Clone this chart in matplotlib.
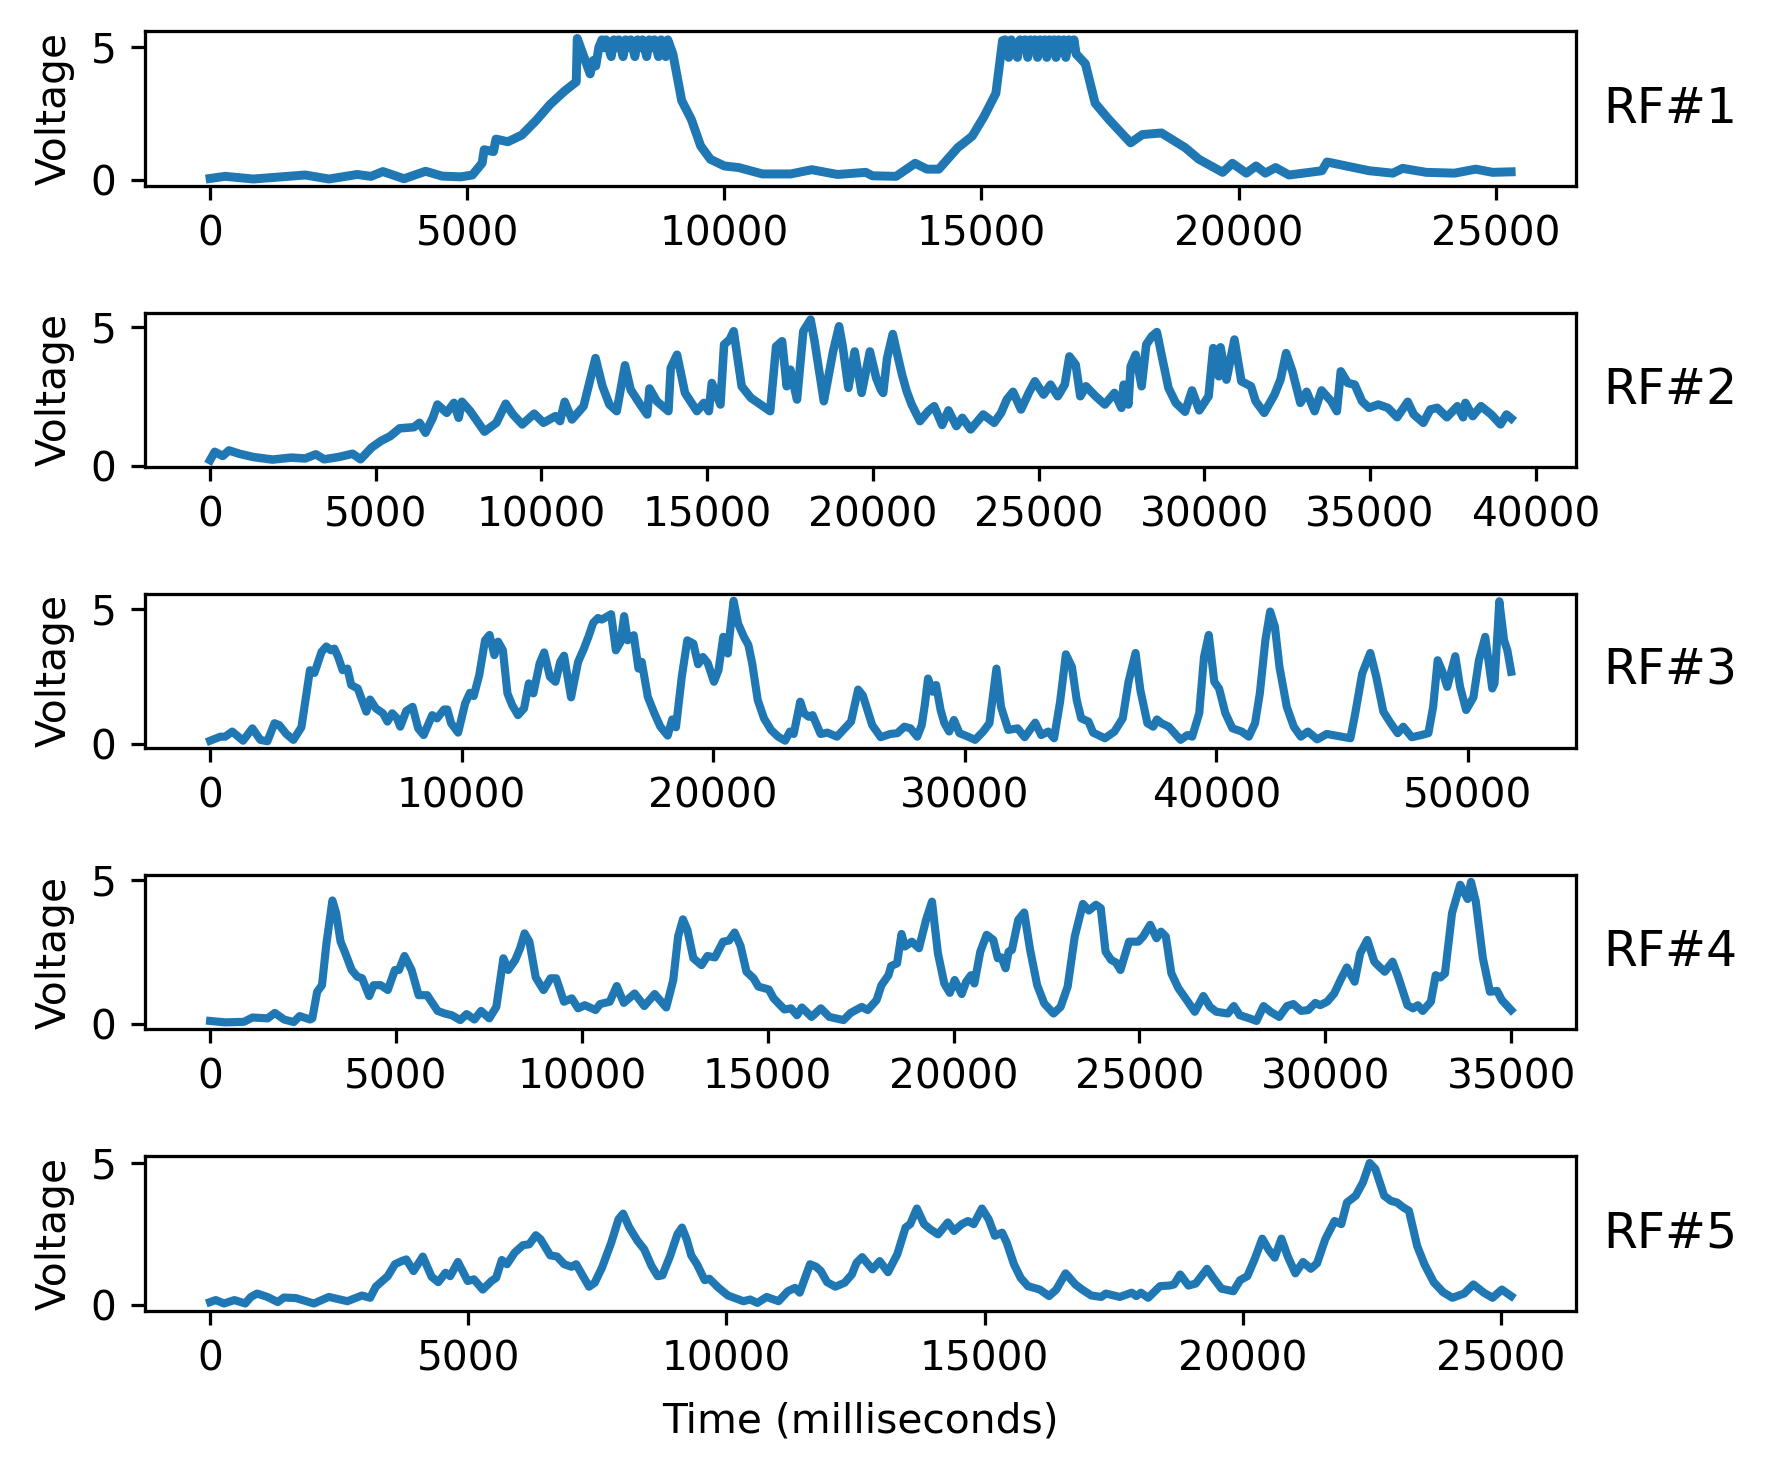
import matplotlib
matplotlib.use("Agg")
import matplotlib.pyplot as plt

# ---------------- data ----------------
rf1_t = [0, 290, 840, 1850, 2310, 2860, 3130, 3360, 3770, 4190, 4510, 4870, 5100, 5290, 5330,
         5510, 5560, 5790, 6060, 6340, 6610, 6890, 7120, 7140, 7250, 7390, 7450, 7500, 7560,
         7620, 7660, 7700, 7750, 7800, 7850, 7900, 7950, 8030, 8080, 8130, 8180, 8260, 8310,
         8360, 8410, 8490, 8540, 8590, 8640, 8720, 8770, 8820, 8860, 8900,
         9000, 9170, 9360, 9540, 9730, 10000, 10280, 10740, 11290, 11700, 12200, 12750, 12880,
         13340, 13710, 13940, 14170, 14540, 14820, 15050, 15280, 15410,
         15460, 15530, 15580, 15630, 15700, 15750, 15800, 15850, 15900, 15950, 16000, 16040,
         16090, 16140, 16180, 16230, 16270, 16320, 16370, 16410, 16450, 16500, 16550, 16600,
         16640, 16700, 16760, 16800,
         16840, 17020, 17210, 17480, 17900, 18130, 18500, 18960, 19230, 19690, 19880, 20150,
         20340, 20520, 20720, 20980, 21620, 21720, 22090, 22540, 23000, 23190, 23650, 24200,
         24610, 24940, 25300]
rf1_v = [0.07, 0.15, 0.05, 0.20, 0.05, 0.22, 0.15, 0.33, 0.06, 0.34, 0.16, 0.13, 0.20, 0.65, 1.15,
         1.08, 1.55, 1.45, 1.70, 2.25, 2.85, 3.35, 3.70, 5.33, 4.75, 4.00, 4.50, 4.30, 5.00,
         5.28, 4.98, 5.28, 4.98, 4.65, 5.28, 4.98, 5.28, 4.65, 5.28, 4.98, 5.28, 4.65, 5.28,
         4.98, 5.28, 4.65, 5.28, 4.98, 5.28, 4.65, 5.28, 4.98, 4.65, 5.28,
         4.75, 3.00, 2.28, 1.29, 0.79, 0.54, 0.48, 0.24, 0.24, 0.40, 0.22, 0.30, 0.17,
         0.15, 0.64, 0.42, 0.42, 1.23, 1.66, 2.40, 3.27, 5.25,
         5.28, 4.62, 5.28, 4.98, 4.62, 5.28, 4.98, 5.28, 4.62, 5.28, 4.98, 5.28,
         4.62, 5.28, 4.98, 5.28, 4.62, 5.28, 4.98, 5.28, 4.62, 5.28, 4.98, 5.28,
         4.62, 5.28, 4.98, 5.28,
         4.75, 4.38, 2.90, 2.28, 1.41, 1.72, 1.78, 1.23, 0.79, 0.30, 0.64, 0.27,
         0.54, 0.27, 0.48, 0.20, 0.36, 0.69, 0.54, 0.36, 0.27, 0.45, 0.30, 0.27,
         0.42, 0.30, 0.32]

rf2_t = [0, 140, 380, 570, 880, 1310, 1880, 2450, 2870, 3190, 3440, 3870, 4300, 4540, 4870,
         5150, 5440, 5720, 6150, 6320, 6500, 6720, 6860, 7140, 7360, 7500, 7600, 7850, 8280,
         8640, 8920, 9140, 9420, 9780, 10060, 10420, 10560, 10700, 10920, 11270, 11480, 11630,
         11840, 12050, 12270, 12520, 12690, 12980, 13190, 13260, 13480, 13830, 13900, 14090,
         14330, 14690, 14900, 15050, 15140, 15400, 15510, 15680, 15800, 16040, 16320, 16680,
         16900, 17080, 17260, 17400, 17510, 17710, 17900, 18120, 18240, 18520, 18800, 18980,
         19090, 19260, 19450, 19660, 19910, 20100, 20240, 20310, 20430, 20600, 20740, 20880,
         21020, 21170, 21420, 21670, 21850, 22090, 22280, 22520, 22700, 22950, 23330, 23660,
         23870, 24040, 24230, 24470, 24720, 24890, 25150, 25360, 25580, 25790, 25930, 26120,
         26260, 26430, 26720, 27000, 27290, 27500, 27570, 27710, 27780, 27930, 28110, 28250,
         28420, 28570, 28710, 28920, 29140, 29420, 29630, 29850, 30130, 30270, 30440, 30490,
         30670, 30910, 31120, 31410, 31550, 31810, 32120, 32300, 32470, 32660, 32900, 33090,
         33330, 33540, 33830, 34000, 34120, 34330, 34540, 34760, 34970, 35250, 35540, 35820,
         36140, 36320, 36610, 36820, 37030, 37320, 37640, 37810, 37880, 38100, 38350, 38660,
         38940, 39120, 39260]
rf2_v = [0.20, 0.50, 0.35, 0.55, 0.43, 0.31, 0.22, 0.29, 0.26, 0.41, 0.23, 0.31, 0.43, 0.23, 0.65,
         0.89, 1.07, 1.35, 1.39, 1.55, 1.19, 1.73, 2.21, 1.91, 2.27, 1.73, 2.31, 1.97, 1.23,
         1.55, 2.24, 1.85, 1.49, 1.88, 1.55, 1.79, 1.61, 2.31, 1.67, 2.15, 3.17, 3.89,
         2.87, 2.21, 1.97, 3.63, 2.75, 2.21, 1.85, 2.79, 2.33, 1.97, 3.53, 4.01,
         2.63, 1.97, 2.27, 1.97, 2.99, 2.21, 4.38, 4.56, 4.86, 2.87, 2.45, 2.15,
         1.97, 4.31, 4.50, 2.87, 3.47, 2.39, 4.86, 5.28, 4.50, 2.33, 4.13, 5.04,
         4.31, 2.81, 4.13, 2.63, 4.13, 3.17, 2.75, 2.63, 3.89, 4.76, 4.01, 3.29,
         2.69, 2.21, 1.61, 1.97, 2.15, 1.47, 2.00, 1.43, 1.73, 1.31, 1.85, 1.55,
         1.91, 2.39, 2.67, 2.03, 2.67, 3.05, 2.57, 2.93, 2.51, 2.93, 3.95, 3.65,
         2.51, 2.87, 2.51, 2.21, 2.63, 2.09, 2.93, 2.21, 3.59, 4.01, 2.87, 4.38,
         4.68, 4.83, 4.01, 2.81, 2.27, 1.95, 2.72, 2.00, 2.51, 4.25, 3.23, 4.28,
         3.11, 4.56, 3.05, 2.87, 2.33, 1.91, 2.57, 3.11, 4.07, 3.41, 2.27, 2.67,
         1.97, 2.72, 2.33, 1.97, 3.41, 2.99, 2.93, 2.33, 2.09, 2.21, 2.09, 1.75,
         2.31, 1.85, 1.55, 2.03, 2.09, 1.75, 2.15, 1.75, 2.27, 1.79, 2.15, 1.85,
         1.49, 1.85, 1.71]

rf3_t = [0, 410, 600, 880, 1310, 1680, 2000, 2280, 2560, 2750, 3030, 3310, 3630, 3970, 4150,
         4430, 4620, 4800, 4940, 5090, 5270, 5460, 5610, 5870, 6210, 6360, 6590, 6870, 7050,
         7240, 7430, 7560, 7800, 8050, 8270, 8490, 8830, 9020, 9300, 9430, 9580, 9860, 10140,
         10330, 10480, 10700, 10930, 11110, 11300, 11450, 11640, 11820, 12010, 12240, 12480,
         12670, 12850, 13100, 13280, 13510, 13730, 13920, 14070, 14350, 14630, 14860, 15040,
         15230, 15420, 15570, 15720, 15940, 16130, 16320, 16460, 16600, 16840, 17030, 17160,
         17400, 17660, 17900, 18190, 18370, 18520, 18750, 18970, 19210, 19400, 19590, 19780,
         20030, 20210, 20400, 20580, 20660, 20810, 20990, 21220, 21400, 21550, 21770, 22020,
         22300, 22580, 22860, 23050, 23200, 23460, 23610, 23800, 23950, 24270, 24540, 24920,
         25290, 25480, 25760, 25950, 26150, 26320, 26660, 27040, 27320, 27600, 27840, 28110,
         28290, 28410, 28540, 28720, 28860, 29040, 29190, 29380, 29570, 29790, 30130, 30410,
         30730, 30980, 31260, 31440, 31730, 32100, 32380, 32800, 33040, 33320, 33550, 33790,
         34020, 34260, 34450, 34630, 34920, 35100, 35570, 35950, 36280, 36510, 36790, 36980,
         37260, 37490, 37640, 37820, 38110, 38580, 38850, 39040, 39320, 39510, 39700, 39920,
         40110, 40360, 40640, 41010, 41290, 41540, 41730, 41950, 42140, 42330, 42510, 42800,
         43080, 43360, 43640, 44010, 44390, 45330, 45510, 45800, 46120, 46360, 46640, 46930,
         47210, 47430, 47770, 48150, 48430, 48620, 48800, 48990, 49180, 49500, 49690, 49930,
         50220, 50440, 50690, 50970, 51060, 51250, 51440, 51570, 51720]
rf3_v = [0.12, 0.27, 0.27, 0.46, 0.12, 0.58, 0.15, 0.10, 0.77, 0.70, 0.37, 0.15, 0.62, 2.74, 2.64,
         3.42, 3.62, 3.48, 3.54, 3.23, 2.74, 2.80, 2.19, 2.06, 1.20, 1.65, 1.32, 1.14, 0.83,
         1.14, 0.95, 0.64, 1.23, 1.38, 0.58, 0.33, 1.07, 0.95, 1.28, 1.28, 0.77, 0.42, 1.51,
         1.90, 1.78, 2.56, 3.85, 4.05, 3.30, 3.80, 3.48, 1.88, 1.44, 1.07, 1.32,
         2.25, 1.88, 2.99, 3.40, 2.49, 2.31, 3.05, 3.28, 1.73, 3.05, 3.54, 3.98,
         4.50, 4.68, 4.62, 4.70, 4.82, 3.48, 3.79, 4.75, 3.85, 4.04, 2.80, 3.05,
         1.75, 1.14, 0.64, 0.31, 0.91, 0.62, 2.49, 3.85, 3.73, 2.96, 3.23, 3.01,
         2.31, 2.74, 3.98, 3.36, 4.10, 5.32, 4.47, 3.98, 3.67, 2.99, 1.63, 0.95,
         0.52, 0.27, 0.12, 0.46, 0.37, 1.57, 1.14, 1.01, 1.07, 0.37, 0.42, 0.27,
         0.64, 0.83, 2.02, 1.80, 1.20, 0.70, 0.25, 0.37, 0.40, 0.64, 0.58, 0.27,
         0.70, 1.44, 2.43, 1.94, 2.19, 1.26, 0.77, 0.46, 0.89, 0.40, 0.27, 0.15,
         0.46, 0.77, 2.80, 1.38, 0.52, 0.58, 0.25, 0.79, 0.33, 0.46, 0.21, 1.57,
         3.33, 2.86, 1.63, 0.95, 0.83, 0.42, 0.21, 0.46, 0.95, 2.31, 3.38, 2.00,
         0.77, 0.64, 0.91, 0.77, 0.64, 0.15, 0.33, 0.27, 1.14, 3.23, 4.05, 2.31,
         2.06, 1.14, 0.58, 0.46, 0.27, 0.77, 1.88, 3.85, 4.92, 4.35, 2.86, 1.38,
         0.64, 0.27, 0.46, 0.17, 0.37, 0.21, 1.07, 2.62, 3.38, 2.49, 1.20, 0.77,
         0.40, 0.64, 0.25, 0.33, 0.40, 1.38, 3.11, 2.68, 2.12, 3.26, 2.12, 1.26,
         1.73, 3.11, 3.98, 2.06, 2.25, 5.30, 3.85, 3.48, 2.68]

rf4_t = [0, 410, 910, 1140, 1550, 1740, 1990, 2250, 2410, 2690, 2750, 2880, 3010, 3130, 3290,
         3390, 3510, 3640, 3810, 3960, 4090, 4280, 4400, 4590, 4780, 4970, 5080, 5230, 5420,
         5610, 5840, 6120, 6310, 6500, 6730, 6900, 7110, 7290, 7510, 7700, 7890, 8020, 8210,
         8340, 8460, 8590, 8760, 8970, 9160, 9310, 9520, 9730, 9900, 10080, 10370, 10490,
         10750, 10940, 11130, 11420, 11680, 11960, 12270, 12460, 12590, 12720, 12840, 13000,
         13220, 13380, 13580, 13800, 13960, 14110, 14270, 14430, 14620, 14750, 15030, 15160,
         15450, 15630, 15790, 15920, 16180, 16430, 16660, 17040, 17230, 17530, 17690, 17930,
         18060, 18250, 18320, 18480, 18600, 18690, 18880, 19070, 19260, 19420, 19580, 19750,
         19900, 20030, 20220, 20340, 20470, 20560, 20720, 20890, 21070, 21190, 21290, 21400,
         21480, 21570, 21740, 21900, 22060, 22250, 22440, 22690, 22880, 23070, 23260, 23480,
         23640, 23830, 23960, 24090, 24240, 24370, 24490, 24720, 24970, 25100, 25290, 25460,
         25580, 25710, 25860, 26050, 26240, 26490, 26720, 26900, 27070, 27380, 27540, 27700,
         27960, 28150, 28340, 28530, 28760, 28970, 29140, 29350, 29540, 29730, 29860, 30050,
         30240, 30410, 30580, 30790, 30940, 31130, 31320, 31450, 31600, 31810, 31960, 32210,
         32360, 32490, 32620, 32840, 32970, 33100, 33220, 33410, 33630, 33830, 33920, 34050,
         34240, 34430, 34620, 34750, 35000]
rf4_v = [0.09, 0.04, 0.06, 0.21, 0.18, 0.37, 0.14, 0.05, 0.26, 0.14, 0.18, 1.11, 1.34, 2.80, 4.30,
         3.86, 2.86, 2.45, 1.87, 1.64, 1.58, 0.96, 1.34, 1.34, 1.17, 1.87, 1.87, 2.36, 1.87,
         0.99, 0.99, 0.44, 0.35, 0.29, 0.12, 0.33, 0.14, 0.44, 0.18, 0.58, 2.28, 1.87, 2.22,
         2.63, 3.15, 2.86, 1.61, 1.17, 1.58, 1.58, 0.76, 0.88, 0.53, 0.64, 0.47, 0.68,
         0.76, 1.31, 0.72, 1.05, 0.61, 1.03, 0.56, 1.52, 3.04, 3.64, 3.27, 2.28,
         2.04, 2.36, 2.31, 2.86, 2.90, 3.18, 2.71, 1.81, 1.58, 1.29, 1.19, 0.88,
         0.49, 0.53, 0.29, 0.56, 0.23, 0.53, 0.23, 0.12, 0.37, 0.58, 0.47, 0.82,
         1.34, 1.69, 2.01, 2.10, 3.13, 2.69, 2.86, 2.63, 3.62, 4.26, 2.45, 1.40,
         1.07, 1.52, 1.03, 1.46, 1.69, 1.40, 2.51, 3.10, 2.92, 2.28, 2.31, 1.93,
         2.51, 2.57, 3.62, 3.88, 2.57, 1.34, 0.70, 0.35, 0.58, 1.29, 3.04, 4.18,
         3.95, 4.15, 4.03, 2.51, 2.22, 2.13, 1.87, 2.86, 2.86, 3.04, 3.45, 2.98,
         3.21, 3.04, 1.75, 1.23, 0.88, 0.41, 0.96, 0.58, 0.41, 0.35, 0.61, 0.29,
         0.18, 0.09, 0.61, 0.41, 0.23, 0.61, 0.68, 0.44, 0.47, 0.72, 0.64, 0.76,
         1.05, 1.52, 1.96, 1.46, 2.45, 2.92, 2.16, 1.99, 1.81, 2.16, 1.64, 0.64,
         0.53, 0.64, 0.44, 0.76, 1.69, 1.61, 1.75, 3.86, 4.85, 4.35, 4.95, 4.26,
         2.28, 1.11, 1.14, 0.82, 0.47]

rf5_t = [0, 110, 270, 470, 680, 790, 910, 1110, 1310, 1430, 1660, 2010, 2300, 2660, 2940, 3100,
         3210, 3440, 3580, 3710, 3800, 3940, 4120, 4290, 4420, 4560, 4650, 4800, 4990, 5110,
         5280, 5450, 5540, 5650, 5750, 5900, 6060, 6180, 6310, 6400, 6590, 6720, 6860, 7000,
         7090, 7340, 7450, 7590, 7770, 7910, 8000, 8120, 8280, 8410, 8550, 8670, 8760, 8910,
         9050, 9140, 9230, 9320, 9430, 9580, 9670, 9850, 10030, 10330, 10460, 10600, 10780,
         11010, 11190, 11330, 11420, 11620, 11740, 11830, 11950, 12110, 12290, 12430, 12520,
         12630, 12830, 12970, 13130, 13310, 13470, 13560, 13690, 13830, 13950, 14100, 14290,
         14410, 14560, 14680, 14790, 14950, 15080, 15200, 15340, 15430, 15570, 15700, 15840,
         16070, 16250, 16390, 16570, 16760, 16890, 17070, 17260, 17350, 17620, 17850, 17940,
         18030, 18170, 18400, 18580, 18670, 18790, 18950, 19090, 19310, 19430, 19590, 19820,
         19950, 20090, 20230, 20380, 20500, 20620, 20750, 20870, 21020, 21170, 21320, 21440,
         21600, 21780, 21910, 22020, 22190, 22330, 22460, 22570, 22740, 22870, 22990, 23110,
         23220, 23380, 23520, 23700, 23880, 24060, 24290, 24470, 24670, 24840, 25020, 25200]
rf5_v = [0.11, 0.18, 0.06, 0.18, 0.06, 0.29, 0.41, 0.29, 0.11, 0.27, 0.25, 0.06, 0.29, 0.14, 0.34, 0.26,
         0.65, 1.02, 1.44, 1.55, 1.61, 1.20, 1.71, 1.00, 0.81, 1.14, 1.02, 1.52, 0.85, 0.91,
         0.55, 0.85, 0.96, 1.59, 1.44, 1.85, 2.11, 2.14, 2.46, 2.32, 1.75, 1.71, 1.44, 1.35,
         1.44, 0.65, 0.79, 1.32, 2.20, 3.02, 3.22, 2.73, 2.26, 1.96, 1.38, 1.02, 1.05, 1.73,
         2.49, 2.73, 2.32, 1.75, 1.44, 0.88, 0.93, 0.61, 0.34, 0.14, 0.20, 0.08, 0.29,
         0.14, 0.49, 0.61, 0.44, 1.44, 1.35, 1.20, 0.81, 0.65, 0.79, 1.08, 1.49,
         1.69, 1.26, 1.55, 1.16, 1.79, 2.73, 2.85, 3.40, 2.85, 2.67, 2.49, 2.91,
         2.61, 2.85, 2.96, 2.85, 3.40, 3.02, 2.44, 2.55, 2.20, 1.44, 0.96, 0.67,
         0.55, 0.32, 0.55, 1.12, 0.73, 0.55, 0.34, 0.29, 0.41, 0.29, 0.44, 0.32,
         0.44, 0.26, 0.67, 0.69, 0.73, 1.08, 0.69, 0.76, 1.28, 0.96, 0.58, 0.49,
         0.88, 1.02, 1.61, 2.34, 1.96, 1.67, 2.34, 1.73, 1.12, 1.52, 1.28, 1.47,
         2.32, 2.96, 2.85, 3.61, 3.85, 4.32, 5.00, 4.79, 3.85, 3.67, 3.61, 3.44,
         3.32, 2.08, 1.44, 0.81, 0.46, 0.26, 0.41, 0.73, 0.44, 0.26, 0.55, 0.32]

series_t = [rf1_t, rf2_t, rf3_t, rf4_t, rf5_t]
series_v = [rf1_v, rf2_v, rf3_v, rf4_v, rf5_v]
labels = ["RF#1", "RF#2", "RF#3", "RF#4", "RF#5"]
xtick_sets = [
    [0, 5000, 10000, 15000, 20000, 25000],
    [0, 5000, 10000, 15000, 20000, 25000, 30000, 35000, 40000],
    [0, 10000, 20000, 30000, 40000, 50000],
    [0, 5000, 10000, 15000, 20000, 25000, 30000, 35000],
    [0, 5000, 10000, 15000, 20000, 25000],
]
yticks = [0, 5]

# ---------------- figure ----------------
DPI = 293
fig, axes = plt.subplots(5, 1, figsize=(1771 / DPI, 1471 / DPI), dpi=DPI)
fig.subplots_adjust(left=0.0819, right=0.890, top=0.9786, bottom=0.1091, hspace=0.819)

widths = [2.2, 2.1, 2.0, 2.0, 2.0]
for ax, t, v, lab, xt, lw in zip(axes, series_t, series_v, labels, xtick_sets, widths):
    ax.plot(t, v, color="#1f77b4", linewidth=lw, solid_joinstyle="round")
    ax.set_xticks(xt)
    ax.set_yticks(yticks)
    ax.set_ylabel("Voltage")
    ax.text(1.019, 0.5, lab, transform=ax.transAxes, ha="left", va="center", fontsize=12)

axes[-1].set_xlabel("Time (milliseconds)", labelpad=5.5)

fig.savefig("out.png", dpi=DPI)
